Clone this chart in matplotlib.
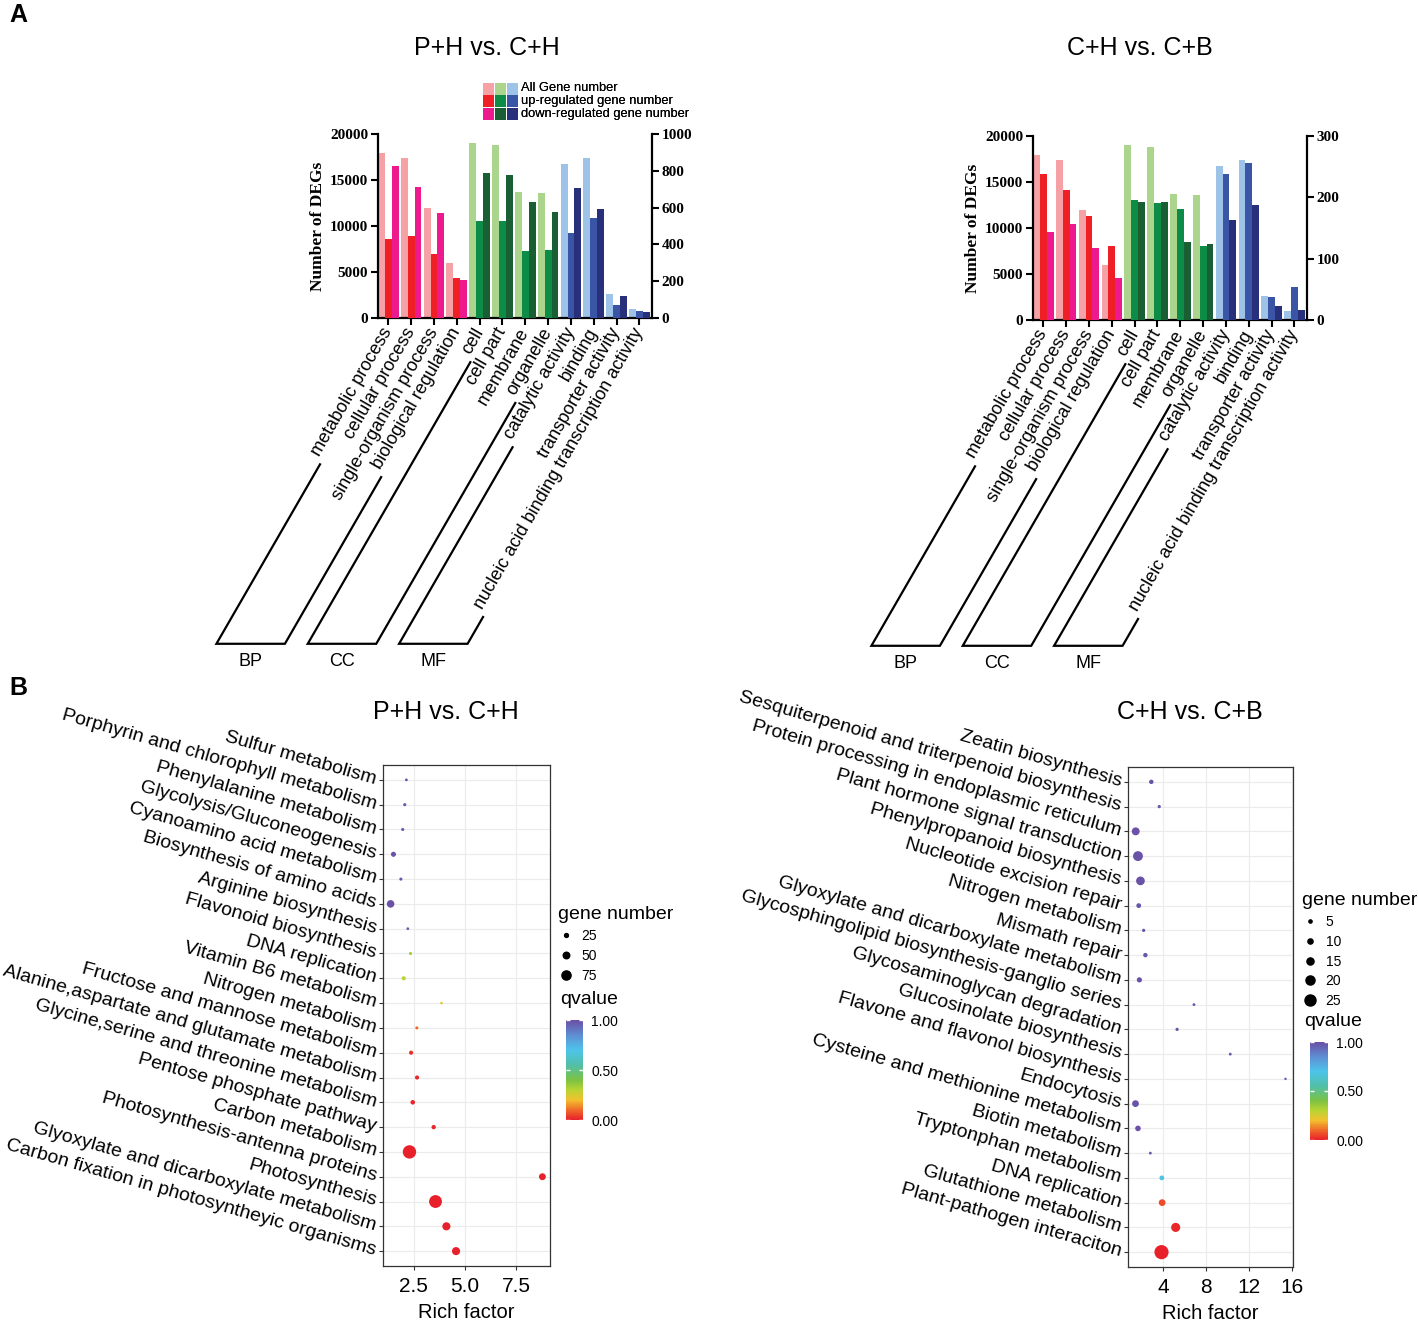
import matplotlib
matplotlib.use("Agg")
import matplotlib.pyplot as plt
import numpy as np
from matplotlib.colors import LinearSegmentedColormap
from matplotlib.lines import Line2D
from matplotlib.patches import Rectangle
from matplotlib.transforms import IdentityTransform

plt.rcParams['font.family'] = ['Liberation Sans', 'DejaVu Sans']

FIG_W, FIG_H, DPI = 1418, 1325, 100

# ---------------- GO bar charts (panel A) ----------------
go_terms = ["metabolic process", "cellular process", "single-organism process",
            "biological regulation", "cell", "cell part", "membrane", "organelle",
            "catalytic activity", "binding", "transporter activity",
            "nucleic acid binding transcription activity"]
go_classes = ["BP", "CC", "MF"]
go_class_size = [4, 4, 4]

all_genes = [17950, 17430, 11970, 6030, 18980, 18830, 13700, 13620, 16690, 17400, 2590, 1000]
ph_ch_up = [429, 447, 347, 217, 529, 529, 365, 372, 464, 546, 73, 36]
ph_ch_down = [825, 710, 573, 206, 786, 777, 633, 578, 704, 593, 122, 33]
ch_cb_up = [238, 212, 170, 121, 196, 191, 181, 121, 238, 256, 37, 53]
ch_cb_down = [143, 157, 117, 69, 193, 192, 127, 124, 163, 188, 23, 17]

bar_legend = ["All Gene number", "up-regulated gene number", "down-regulated gene number"]
palette = [["#F5A1A6", "#EE2026", "#EC1A8C"],   # BP
           ["#ABD58D", "#0C8C46", "#1A5E33"],   # CC
           ["#9DC3E9", "#3A55A6", "#28307C"]]   # MF

# ---------------- KEGG dot plots (panel B) ----------------
ph_paths = ["Sulfur metabolism", "Porphyrin and chlorophyll metabolism",
            "Phenylalanine metabolism", "Glycolysis/Gluconeogenesis",
            "Cyanoamino acid metabolism", "Biosynthesis of amino acids",
            "Arginine biosynthesis", "Flavonoid biosynthesis", "DNA replication",
            "Vitamin B6 metabolism", "Nitrogen metabolism",
            "Fructose and mannose metabolism",
            "Alanine,aspartate and glutamate metabolism",
            "Glycine,serine and threonine metabolism", "Pentose phosphate pathway",
            "Carbon metabolism", "Photosynthesis-antenna proteins", "Photosynthesis",
            "Glyoxylate and dicarboxylate metabolism",
            "Carbon fixation in photosyntheyic organisms"]
ph_rich = [2.14, 2.06, 1.96, 1.51, 1.87, 1.37, 2.21, 2.34, 2.01, 3.85,
           2.65, 2.37, 2.66, 2.45, 3.47, 2.29, 8.77, 3.56, 4.09, 4.56]
ph_genes = [14, 17, 17, 36, 17, 60, 14, 17, 27, 12,
            17, 27, 27, 31, 29, 115, 53, 110, 65, 65]
ph_q = [0.99, 0.99, 0.98, 0.99, 0.98, 0.99, 0.97, 0.34, 0.29, 0.23,
        0.10, 0.02, 0.01, 0.01, 0.01, 0.0, 0.0, 0.0, 0.0, 0.0]
ph_breaks = [25, 50, 75]

cb_paths = ["Zeatin biosynthesis", "Sesquiterpenoid and triterpenoid biosynthesis",
            "Protein processing in endoplasmic reticulum",
            "Plant hormone signal transduction", "Phenylpropanoid biosynthesis",
            "Nucleotide excision repair", "Nitrogen metabolism", "Mismath repair",
            "Glyoxylate and dicarboxylate metabolism",
            "Glycosphingolipid biosynthesis-ganglio series",
            "Glycosaminoglycan degradation", "Glucosinolate biosynthesis",
            "Flavone and flavonol biosynthesis", "Endocytosis",
            "Cysteine and methionine metabolism", "Biotin metabolism",
            "Tryptonphan metabolism", "DNA replication", "Glutathione metabolism",
            "Plant-pathogen interaciton"]
cb_rich = [2.89, 3.63, 1.44, 1.65, 1.88, 1.72, 2.18, 2.34, 1.78, 6.86,
           5.29, 10.24, 15.38, 1.42, 1.65, 2.80, 3.87, 3.90, 5.16, 3.84]
cb_genes = [8, 5, 17, 22, 19, 9, 5, 8, 10, 4, 5, 4, 3, 14, 11, 4, 9, 14, 20, 33]
cb_q = [0.99, 0.98, 0.99, 0.99, 0.99, 0.98, 0.99, 0.98, 0.99, 0.97,
        0.98, 0.97, 0.96, 0.99, 0.99, 0.98, 0.68, 0.06, 0.01, 0.0]
cb_breaks = [5, 10, 15, 20, 25]

qcmap = LinearSegmentedColormap.from_list("qvalue", [
    (0.0, "#E8202A"), (0.1, "#F06A2A"), (0.2, "#F2C12E"), (0.3, "#B9D433"),
    (0.4, "#7CC242"), (0.55, "#52BFA8"), (0.7, "#4DC4EA"), (0.85, "#5E8ED3"),
    (1.0, "#6A4FA5")])


def fig_rect(x0, y0, x1, y1):
    # pixel box (top-left origin) -> figure fraction rect
    return [x0 / FIG_W, 1 - y1 / FIG_H, (x1 - x0) / FIG_W, (y1 - y0) / FIG_H]


def go_bar_panel(fig, box, up, down, right_max, right_step, title, title_x):
    ax = fig.add_axes(fig_rect(*box))
    ax2 = ax.twinx()
    x = np.arange(len(go_terms))
    cls = np.repeat(np.arange(len(go_classes)), go_class_size)
    for k, (axis, vals) in enumerate([(ax, all_genes), (ax2, up), (ax2, down)]):
        axis.bar(x + 0.3 * k, vals, width=0.3, align="edge",
                 color=[palette[c][k] for c in cls], linewidth=0)
    ax.set_xlim(0, 12.0)
    ax.set_ylim(0, 20000)
    ax2.set_ylim(0, right_max)

    serif = dict(fontfamily="Liberation Serif", fontweight="bold", fontsize=11)
    lt = np.arange(0, 20001, 5000)
    ax.set_yticks(lt, labels=[str(t) for t in lt], **serif)
    rt = np.arange(0, right_max + 1, right_step)
    ax2.set_yticks(rt, labels=[str(t) for t in rt], **serif)
    ax.set_ylabel("Number of DEGs", fontfamily="Liberation Serif",
                  fontweight="bold", fontsize=12.5, labelpad=3)
    ax.set_xticks(x + 0.45, labels=go_terms, rotation=60, ha="right", va="center",
                  rotation_mode="anchor", fontsize=13)

    for s in ["top", "right"]:
        ax.spines[s].set_visible(False)
    for s in ["top", "left", "bottom"]:
        ax2.spines[s].set_visible(False)
    for sp in [ax.spines["left"], ax.spines["bottom"], ax2.spines["right"]]:
        sp.set_linewidth(1.6)
    ax.tick_params(axis="both", length=5, width=1.5, pad=2)
    ax.tick_params(axis="x", pad=3)
    ax2.tick_params(axis="y", length=5, width=1.5, pad=2)

    # legend: three colour swatches per row
    aw = (box[2] - box[0])
    ah = (box[3] - box[1])
    lx = (483 - box[0]) / aw
    ly = 1 + (box[1] - 82) / ah
    sw, sh = 12 / aw, 12.7 / ah
    for k, lab in enumerate(bar_legend):
        for j in range(3):
            ax.add_patch(Rectangle((lx + j * sw, ly - (k + 1) * sh), sw * 0.95, sh * 0.95,
                                   facecolor=palette[j][k], transform=ax.transAxes,
                                   clip_on=False, linewidth=0))
        ax.text(lx + 3 * sw + 2 / aw, ly - (k + 0.5) * sh, lab, transform=ax.transAxes,
                fontsize=9.3, va="center", ha="left")

    fig.text(title_x / FIG_W, 1 - 48 / FIG_H, title, ha="center", va="center", fontsize=18)
    return ax


def draw_brackets(fig, ax, renderer):
    ang = np.deg2rad(60)
    c, s = np.cos(ang), np.sin(ang)
    starts = []
    for lab in ax.get_xticklabels():
        bb = lab.get_window_extent(renderer)
        w = (bb.height * s - bb.width * c) / (s * s - c * c)
        h = (bb.width - w * c) / s
        starts.append((bb.x0 + h * s, bb.y0))
    starts = np.array(starts)
    tops = starts - 6 * np.array([c, s])
    yb = starts[:, 1].min() - 32
    bottoms = np.column_stack([tops[:, 0] - (tops[:, 1] - yb) / s * c,
                               np.full(len(tops), yb)])
    first = 0
    for name, n in zip(go_classes, go_class_size):
        last = first + n - 1
        pts = np.array([tops[first], bottoms[first], bottoms[last], tops[last]])
        fig.add_artist(Line2D(pts[:, 0], pts[:, 1], color="black", linewidth=1.6,
                              transform=IdentityTransform(), solid_joinstyle="miter"))
        fig.text((bottoms[first, 0] + bottoms[last, 0]) / 2 / FIG_W,
                 (yb - 18) / FIG_H, name, ha="center", va="center", fontsize=13)
        first = last + 1


def dot_px(g, a, b):
    return a + b * np.asarray(g, dtype=float)


def kegg_panel(fig, box, names, rich, genes, q, size_ab, xticks, xlabels, title,
               title_x, breaks, legend_xy, cbar_box, qtitle_xy):
    ax = fig.add_axes(fig_rect(*box))
    n = len(names)
    y = np.arange(n)[::-1]
    d = dot_px(genes, *size_ab) * 0.72
    sc = ax.scatter(rich, y, s=d ** 2, c=q, cmap=qcmap, vmin=0, vmax=1,
                    edgecolors="none", zorder=3)
    ax.set_ylim(-0.6, n - 0.4)
    ax.set_yticks(y, labels=names, rotation=-16, ha="right", va="center",
                  rotation_mode="anchor", fontsize=14)
    ax.set_xticks(xticks, labels=xlabels, fontsize=15)
    ax.set_xlabel("Rich factor", fontsize=14.5, labelpad=5)
    ax.grid(True, color="#EBEBEB", linewidth=0.8)
    ax.set_axisbelow(True)
    for sp in ax.spines.values():
        sp.set_color("#333333")
        sp.set_linewidth(0.9)
    ax.tick_params(length=3, color="#333333", pad=2)
    ax.tick_params(axis="x", pad=5)

    handles = [Line2D([], [], marker="o", linestyle="", color="black",
                      markersize=dot_px(g, *size_ab) * 0.72) for g in breaks]
    ax.legend(handles, [str(g) for g in breaks], title="gene number",
              loc="upper left", bbox_to_anchor=(legend_xy[0] / FIG_W, 1 - legend_xy[1] / FIG_H),
              bbox_transform=fig.transFigure, frameon=False, fontsize=10,
              title_fontsize=14, alignment="left", handlelength=1.2,
              handletextpad=0.5, labelspacing=0.42, borderpad=0, borderaxespad=0)

    cax = fig.add_axes(fig_rect(*cbar_box))
    cb = fig.colorbar(sc, cax=cax, ticks=[0, 0.5, 1])
    cb.ax.set_yticklabels(["0.00", "0.50", "1.00"], fontsize=10)
    cb.outline.set_visible(False)
    cb.ax.tick_params(color="white", direction="in", length=3, width=1,
                      left=True, right=True, pad=6)
    fig.text(qtitle_xy[0] / FIG_W, 1 - qtitle_xy[1] / FIG_H, "qvalue",
             ha="left", va="center", fontsize=14)
    fig.text(title_x / FIG_W, 1 - 712 / FIG_H, title, ha="center", va="center", fontsize=18)
    return ax


fig = plt.figure(figsize=(FIG_W / DPI, FIG_H / DPI), dpi=DPI)

ax_a1 = go_bar_panel(fig, (378, 134, 652, 318), ph_ch_up, ph_ch_down, 1000, 200,
                     "P+H vs. C+H", 487)
ax_a2 = go_bar_panel(fig, (1033, 136, 1307, 320), ch_cb_up, ch_cb_down, 300, 100,
                     "C+H vs. C+B", 1140)

kegg_panel(fig, (383, 765, 550, 1266), ph_paths, ph_rich, ph_genes, ph_q, (1.3, 0.105),
           [2.5, 5.0, 7.5], ["2.5", "5.0", "7.5"], "P+H vs. C+H", 446,
           ph_breaks, (558, 906), (566, 1020, 583, 1120), (560, 1000))
kegg_panel(fig, (1128, 767, 1293, 1267), cb_paths, cb_rich, cb_genes, cb_q, (1.3, 0.39),
           [4, 8, 12, 16], ["4", "8", "12", "16"], "C+H vs. C+B", 1190,
           cb_breaks, (1302, 892), (1310, 1042, 1328, 1140), (1304, 1022))

fig.text(18 / FIG_W, 1 - 15 / FIG_H, "A", fontweight="bold", fontsize=18, ha="center", va="center")
fig.text(18 / FIG_W, 1 - 688 / FIG_H, "B", fontweight="bold", fontsize=18, ha="center", va="center")

fig.canvas.draw()
renderer = fig.canvas.get_renderer()
draw_brackets(fig, ax_a1, renderer)
draw_brackets(fig, ax_a2, renderer)

fig.savefig("out.png", dpi=DPI)
